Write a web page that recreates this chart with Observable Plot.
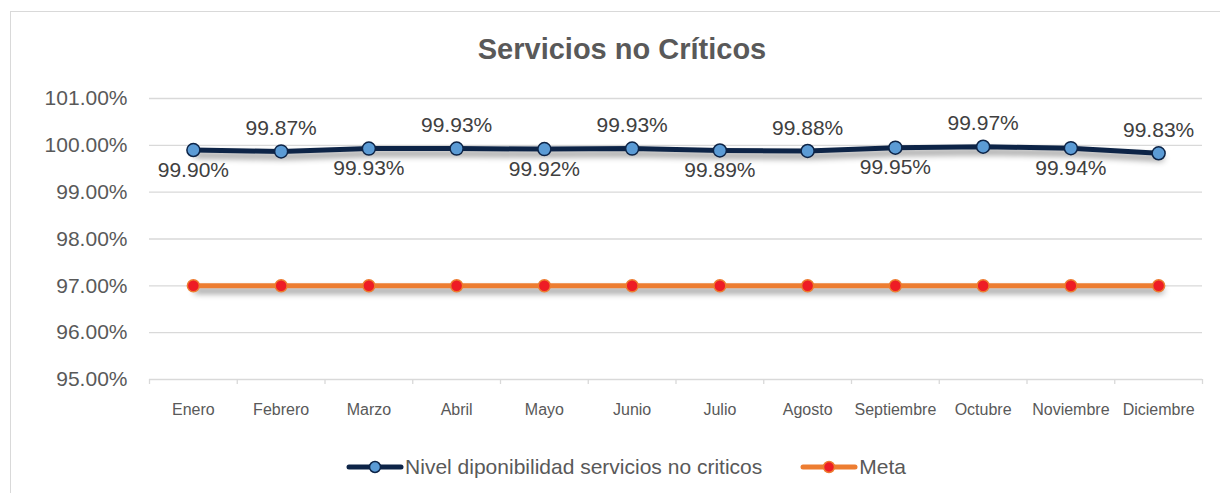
<!DOCTYPE html>
<html>
<head>
<meta charset="utf-8">
<script src="https://cdn.jsdelivr.net/npm/d3@7"></script>
<script src="https://cdn.jsdelivr.net/npm/@observablehq/plot@0.6"></script>
<style>
  html, body { margin: 0; padding: 0; background: #fff; }
  body { width: 1220px; height: 493px; position: relative; overflow: hidden; font-family: "Liberation Sans", Arial, sans-serif; }
  #frame { position: absolute; left: 10px; top: 11px; width: 1215px; height: 490px; border: 1px solid #d9d9d9; box-sizing: border-box; }
  #title { position: absolute; left: 0; width: 1244px; top: 32px; text-align: center; font-size: 29px; line-height: 34px; font-weight: bold; color: #595959; }
  #chart { position: absolute; left: 0; top: 0; }
  #legend { position: absolute; top: 454px; left: 0; width: 1252px; display: flex; justify-content: center; align-items: center; font-size: 21px; line-height: 26px; color: #595959; }
  #legend .item { display: flex; align-items: center; margin: 0 19px; }
  #legend svg { margin-right: 1px; }
</style>
</head>
<body>
<div id="frame"></div>
<div id="title">Servicios no Críticos</div>
<div id="chart"></div>
<div id="legend"></div>
<script>
const months = ["Enero","Febrero","Marzo","Abril","Mayo","Junio","Julio","Agosto","Septiembre","Octubre","Noviembre","Diciembre"];
const nivel = [99.90, 99.87, 99.93, 99.93, 99.92, 99.93, 99.89, 99.88, 99.95, 99.97, 99.94, 99.83];
const meta = [97, 97, 97, 97, 97, 97, 97, 97, 97, 97, 97, 97];
const yTicks = [95, 96, 97, 98, 99, 100, 101];
const seriesNames = ["Nivel diponibilidad servicios no criticos", "Meta"];

const navy = "#0d2447", lightBlue = "#5b9bd5", orange = "#ed7d31", red = "#ee1c25";
const nivelData = months.map((m, i) => ({m, v: nivel[i], i}));
const metaData = months.map((m, i) => ({m, v: meta[i], i}));

const W = 1220, H = 430;
const mL = 149, mR = 18, mT = 98, mB = 51;
const bw = (W - mL - mR) / months.length;
const fmt = d => d.toFixed(2) + "%";

const plot = Plot.plot({
  width: W, height: H,
  marginLeft: mL, marginRight: mR, marginTop: mT, marginBottom: mB,
  style: {fontFamily: "'Liberation Sans', Arial, sans-serif", background: "transparent"},
  x: {type: "band", domain: months, padding: 0, round: false},
  y: {domain: [95, 101]},
  marks: [
    Plot.gridY(yTicks, {stroke: "#d9d9d9", strokeOpacity: 1, strokeWidth: 1.3}),
    Plot.axisY(yTicks, {tickFormat: fmt, tickSize: 0, tickPadding: 22, fontSize: 21, fill: "#595959", label: null}),
    Plot.axisX(months, {tickSize: 0, tickPadding: 24, fontSize: 16, fill: "#595959", label: null}),
    Plot.axisX(months, {tickSize: 5, tickFormat: () => "", stroke: "#d9d9d9", dx: -bw / 2, label: null, strokeWidth: 1.3}),
    Plot.axisX(months.slice(-1), {tickSize: 5, tickFormat: () => "", stroke: "#d9d9d9", dx: bw / 2, label: null, strokeWidth: 1.3}),
    Plot.line(metaData, {x: "m", y: "v", stroke: orange, strokeWidth: 5, className: "shadow"}),
    Plot.dot(metaData, {x: "m", y: "v", r: 6, fill: red, stroke: orange, strokeWidth: 1.5}),
    Plot.line(nivelData, {x: "m", y: "v", stroke: navy, strokeWidth: 5, className: "shadow"}),
    Plot.dot(nivelData, {x: "m", y: "v", r: 6.5, fill: lightBlue, stroke: navy, strokeWidth: 1.5}),
    Plot.text(nivelData.filter(d => d.i % 2 === 0), {x: "m", y: "v", text: d => fmt(d.v), dy: 20, fontSize: 21, fill: "#404040"}),
    Plot.text(nivelData.filter(d => d.i % 2 === 1), {x: "m", y: "v", text: d => fmt(d.v), dy: -23, fontSize: 21, fill: "#404040"})
  ]
});
d3.select(plot).selectAll(".shadow").style("filter", "drop-shadow(3px 5px 3px rgba(0,0,0,0.45))");
document.getElementById("chart").appendChild(plot);

const legendSpecs = [
  {name: seriesNames[0], line: navy, fill: lightBlue, stroke: navy},
  {name: seriesNames[1], line: orange, fill: red, stroke: orange}
];
const legend = d3.select("#legend");
legendSpecs.forEach(s => {
  const item = legend.append("div").attr("class", "item");
  const svg = item.append("svg").attr("width", 58).attr("height", 16);
  svg.append("line").attr("x1", 3).attr("x2", 55).attr("y1", 8).attr("y2", 8)
    .attr("stroke", s.line).attr("stroke-width", 5).attr("stroke-linecap", "round");
  svg.append("circle").attr("cx", 29).attr("cy", 8).attr("r", 5.5)
    .attr("fill", s.fill).attr("stroke", s.stroke).attr("stroke-width", 1.5);
  item.append("span").text(s.name);
});
</script>
</body>
</html>
